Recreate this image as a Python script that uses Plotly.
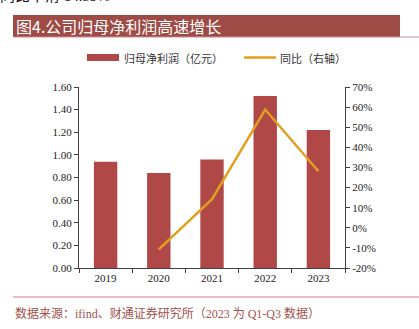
import plotly.graph_objects as go

years = ["2019", "2020", "2021", "2022", "2023"]
profit = [0.94, 0.84, 0.96, 1.52, 1.22]
yoy_years = ["2020", "2021", "2022", "2023"]
yoy = [-10.7, 14.2, 58.8, 28.1]
left_ticks = [0, 0.2, 0.4, 0.6, 0.8, 1.0, 1.2, 1.4, 1.6]
right_ticks = [-20, -10, 0, 10, 20, 30, 40, 50, 60, 70]

W, H = 419, 329
L, R, T, B = 79, 74, 87, 61
PW, PH = W - L - R, H - T - B
serif = "Liberation Serif, Noto Sans CJK SC"
cjk = "Noto Sans CJK SC"
bar_col = "#B04848"
line_col = "#E0A020"


def px(x):
    return (x - L) / PW


def py(y):
    return (H - B - y) / PH


fig = go.Figure()
fig.add_trace(go.Bar(x=years, y=profit, name="归母净利润（亿元）",
                     marker=dict(color=bar_col, line=dict(width=0)), width=0.44))
fig.add_trace(go.Scatter(x=yoy_years, y=yoy, name="同比（右轴）", yaxis="y2",
                         mode="lines", line=dict(color=line_col, width=2.5)))

axis_col = "#404040"
fig.update_layout(
    width=W, height=H,
    margin=dict(l=L, r=R, t=T, b=B, autoexpand=False),
    paper_bgcolor="white", plot_bgcolor="white",
    showlegend=False,
    xaxis=dict(type="category", showline=True, linecolor=axis_col, linewidth=1,
               ticks="outside", tickson="boundaries", ticklen=4, tickcolor=axis_col,
               tickfont=dict(family=serif, size=11, color="#222"), showgrid=False),
    yaxis=dict(range=[0, 1.6], tickvals=left_ticks,
               ticktext=[f"{v:.2f}" for v in left_ticks],
               showline=True, linecolor=axis_col, linewidth=1, ticks="outside",
               ticklen=4, tickcolor=axis_col, showgrid=False, zeroline=False,
               tickfont=dict(family=serif, size=11, color="#222")),
    yaxis2=dict(range=[-20, 70], tickvals=right_ticks,
                ticktext=[f"{v}%" for v in right_ticks],
                overlaying="y", side="right", showline=True, linecolor=axis_col,
                linewidth=1, ticks="outside", ticklen=4, tickcolor=axis_col,
                showgrid=False, zeroline=False,
                tickfont=dict(family=serif, size=11, color="#222")),
)

# manual legend
fig.add_shape(type="rect", xref="paper", yref="paper",
              x0=px(87), x1=px(119), y0=py(61), y1=py(54),
              fillcolor=bar_col, line=dict(width=0))
fig.add_annotation(text="归母净利润（亿元）", xref="paper", yref="paper",
                   x=px(122), y=py(58), xanchor="left", yanchor="middle",
                   showarrow=False, font=dict(family=cjk, size=11, color="#333"))
fig.add_shape(type="line", xref="paper", yref="paper",
              x0=px(244), x1=px(276), y0=py(57.5), y1=py(57.5),
              line=dict(color=line_col, width=2.5))
fig.add_annotation(text="同比（右轴）", xref="paper", yref="paper",
                   x=px(278), y=py(58), xanchor="left", yanchor="middle",
                   showarrow=False, font=dict(family=cjk, size=11, color="#333"))

# title band
fig.add_shape(type="rect", xref="paper", yref="paper",
              x0=px(13), x1=px(400), y0=py(37), y1=py(15),
              fillcolor="#9E4A45", line=dict(width=0), layer="below")
fig.add_shape(type="line", xref="paper", yref="paper",
              x0=px(13), x1=px(419), y0=py(37), y1=py(37),
              line=dict(color="#C89090", width=1))
fig.add_annotation(text="图4.公司归母净利润高速增长", xref="paper", yref="paper",
                   x=px(14), y=py(26), xanchor="left", yanchor="middle",
                   showarrow=False, font=dict(family=cjk, size=16, color="white"))
# partially cut top text
fig.add_annotation(text="同比下滑 14.59%", xref="paper", yref="paper",
                   x=px(-2), y=py(-4), xanchor="left", yanchor="middle",
                   showarrow=False, font=dict(family=serif, size=15, color="#111"))
# bottom rule
fig.add_shape(type="line", xref="paper", yref="paper",
              x0=px(13), x1=px(419), y0=py(297), y1=py(297),
              line=dict(color="#D08080", width=1))
fig.add_annotation(text="数据来源：ifind、财通证券研究所（2023 为 Q1-Q3 数据）",
                   xref="paper", yref="paper",
                   x=px(13), y=py(313), xanchor="left", yanchor="middle",
                   showarrow=False, font=dict(family=serif, size=12, color="#A0524D"))

fig.write_html("out.html")
